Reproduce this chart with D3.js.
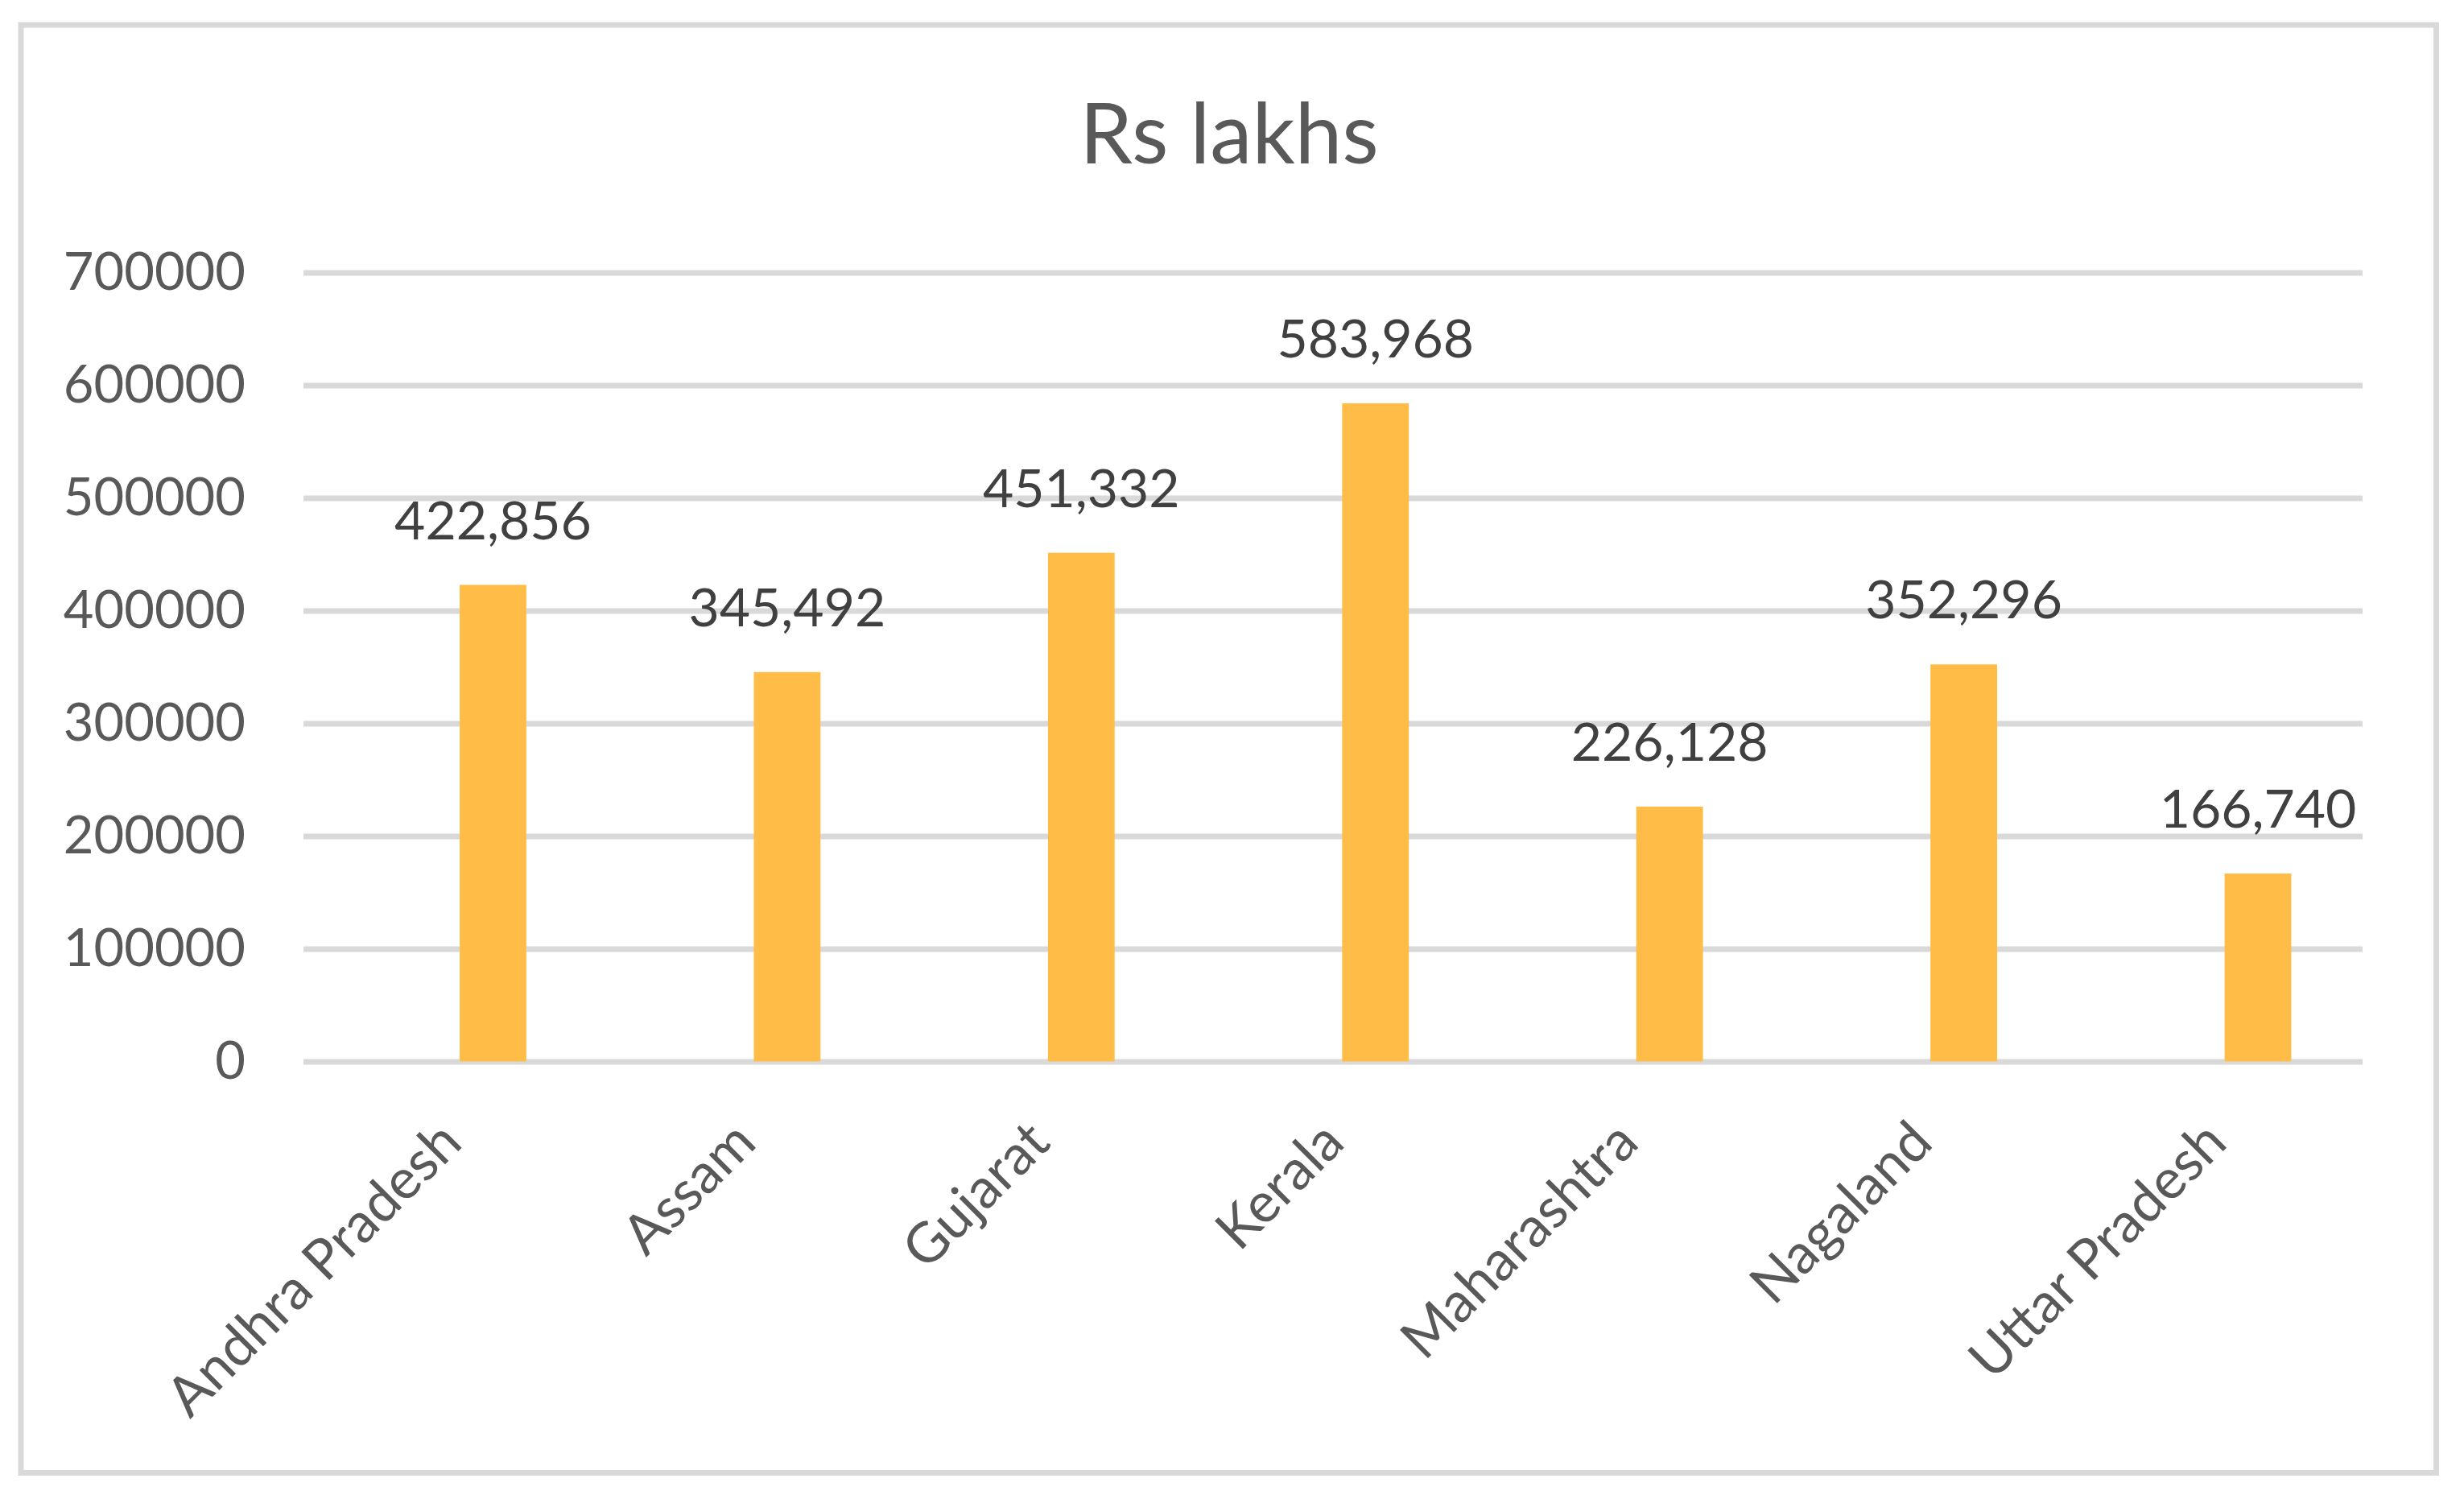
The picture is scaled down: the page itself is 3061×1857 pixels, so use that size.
<!DOCTYPE html>
<html>
<head>
<meta charset="utf-8">
<script src="https://cdn.jsdelivr.net/npm/d3@7"></script>
<style>
  html, body { margin: 0; padding: 0; background: #ffffff; }
  svg { display: block; }
  text { font-family: Lato, "Open Sans", sans-serif; }
</style>
</head>
<body>
<svg id="chart" width="3061" height="1857"></svg>
<script>
// ---- data ----
const categories = ["Andhra Pradesh", "Assam", "Gujarat", "Kerala", "Maharashtra", "Nagaland", "Uttar Pradesh"];
const values = [422856, 345492, 451332, 583968, 226128, 352296, 166740];
const yTicks = [0, 100000, 200000, 300000, 400000, 500000, 600000, 700000];
const titleText = "Rs lakhs";

// ---- layout ----
const W = 3061, H = 1857;
const plot = { left: 377, right: 2935, top: 338.5, bottom: 1318.5 };

const svg = d3.select("#chart");
svg.append("rect").attr("x", 0).attr("y", 0).attr("width", W).attr("height", H).attr("fill", "#ffffff");

// chart border
svg.append("rect")
  .attr("x", 26).attr("y", 31)
  .attr("width", 3026.5 - 26).attr("height", 1829.5 - 31)
  .attr("fill", "none").attr("stroke", "#D9D9D9").attr("stroke-width", 7);

const x = d3.scaleBand().domain(categories).range([plot.left, plot.right]).padding(0);
const y = d3.scaleLinear().domain([0, 700000]).range([plot.bottom, plot.top]);

// gridlines
const grid = svg.append("g")
  .attr("transform", `translate(${plot.left},0)`)
  .call(d3.axisLeft(y).tickValues(yTicks).tickSize(-(plot.right - plot.left)).tickFormat(""));
grid.select(".domain").remove();
grid.selectAll("line").attr("stroke", "#D9D9D9").attr("stroke-width", 7);

// y axis labels
const yAxis = svg.append("g")
  .attr("transform", `translate(${plot.left},0)`)
  .call(d3.axisLeft(y).tickValues(yTicks).tickSize(0).tickPadding(72).tickFormat(d3.format("d")));
yAxis.select(".domain").remove();
yAxis.selectAll("text")
  .attr("fill", "#595959")
  .style("font-size", "65px")
  .style("font-family", "Lato, 'Open Sans', sans-serif");

// bars
const bw = x.bandwidth();
const barOffset = 0.531 * bw;
const barWidth = 0.2266 * bw;
svg.append("g").selectAll("rect")
  .data(values)
  .join("rect")
  .attr("x", (d, i) => x(categories[i]) + barOffset)
  .attr("width", barWidth)
  .attr("y", d => y(d))
  .attr("height", d => y(0) - y(d))
  .attr("fill", "#FFBD48");

// data labels
svg.append("g").selectAll("text")
  .data(values)
  .join("text")
  .attr("x", (d, i) => x(categories[i]) + barOffset + barWidth / 2)
  .attr("y", d => y(d) - 57)
  .attr("text-anchor", "middle")
  .attr("fill", "#404040")
  .style("font-size", "66px")
  .text(d => d3.format(",")(d));

// category labels (rotated)
const xAxis = svg.append("g")
  .attr("transform", `translate(0,${plot.bottom})`)
  .call(d3.axisBottom(x).tickSize(0).tickFormat(d => d));
xAxis.select(".domain").remove();
xAxis.selectAll(".tick text")
  .attr("y", 0).attr("dy", 0)
  .attr("text-anchor", "end")
  .attr("fill", "#595959")
  .style("font-size", "69px")
  .attr("transform", "translate(17,104) rotate(-45)");

// title
svg.append("text")
  .attr("x", 1527).attr("y", 203)
  .attr("text-anchor", "middle")
  .attr("fill", "#595959")
  .style("font-size", "105px")
  .text(titleText);
</script>
</body>
</html>
